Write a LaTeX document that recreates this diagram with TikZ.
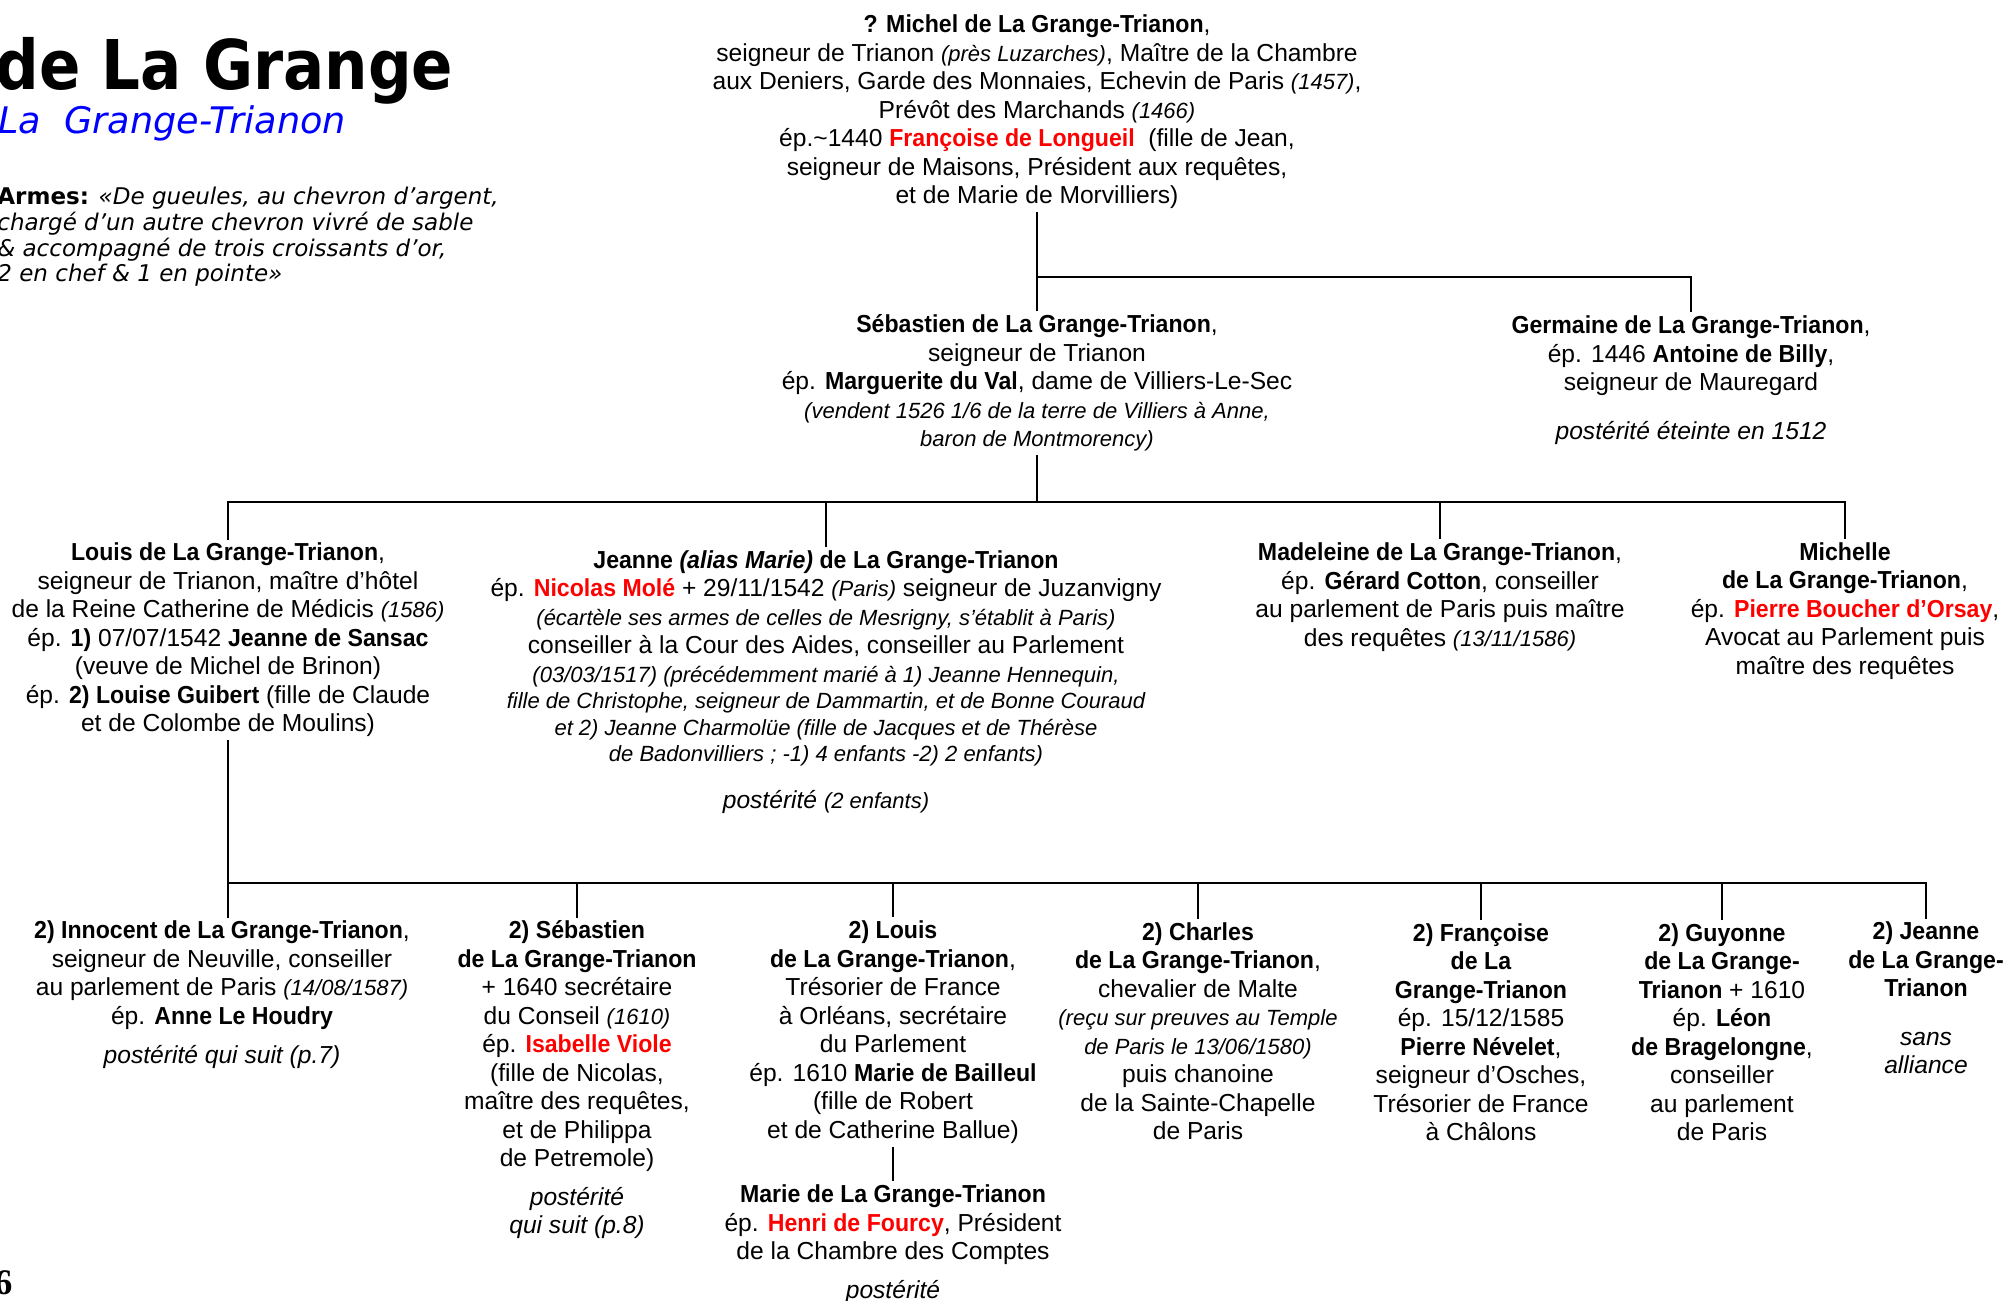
\documentclass[tikz,border=0pt]{standalone}
\usepackage{fontspec}
\usepackage{graphicx}
\setmainfont{Liberation Sans}[BoldFeatures={FakeStretch=0.94}, BoldItalicFeatures={FakeStretch=0.94}]
\newfontfamily\verdana{DejaVu Sans}
\newfontfamily\seriffont{Liberation Serif}
\usetikzlibrary{calc}

\definecolor{nomrouge}{RGB}{255,0,0}
\definecolor{titrebleu}{RGB}{0,0,255}
\newcommand{\pti}[1]{{\fontsize{11}{12}\selectfont\itshape #1}}
\newcommand{\rouge}[1]{\textcolor{nomrouge}{\textbf{#1}}}

\tikzset{
  personne/.style={align=center, inner sep=1.5pt, font=\fontsize{12.3}{14.25}\selectfont},
  lien/.style={line width=1.3pt},
}

\begin{document}
\begin{tikzpicture}[x=0.5pt, y=-0.5pt]

\useasboundingbox (0,0) rectangle (2009,1301);
\clip (0,0) rectangle (2009,1301);

% en-tete
\node[anchor=base west, inner sep=0] (titre) at (-5,90)
  {\scalebox{0.89}[1]{\fontsize{34.3}{40}\verdana\bfseries de La Grange}};
\node[anchor=base west, inner sep=0, text=titrebleu] (soustitre) at (-2,133)
  {\fontsize{18.3}{20}\verdana\itshape La\ \ Grange-Trianon};
\node[anchor=north west, inner sep=0, align=left, font=\fontsize{11.5}{12.8}\verdana\itshape] (armes) at (-3,187)
  {\textbf{\upshape Armes:} «De gueules, au chevron d’argent,\\
   chargé d’un autre chevron vivré de sable\\
   \& accompagné de trois croissants d’or,\\
   2 en chef \& 1 en pointe»};
\node[anchor=base west, inner sep=0] (page) at (-6,1294) {\fontsize{18}{20}\seriffont\bfseries 6};

% generation 1
\node[personne] (michel) at (1037,112) {\textbf{? Michel de La Grange-Trianon},\\
  seigneur de Trianon \pti{(près Luzarches)}, Maître de la Chambre\\
  aux Deniers, Garde des Monnaies, Echevin de Paris \pti{(1457)},\\
  Prévôt des Marchands \pti{(1466)}\\
  ép.\textasciitilde1440 \rouge{Françoise de Longueil}\ \ (fille de Jean,\\
  seigneur de Maisons, Président aux requêtes,\\
  et de Marie de Morvilliers)};

% generation 2
\node[personne] (sebastien) at (1037,383) {\textbf{Sébastien de La Grange-Trianon},\\
  seigneur de Trianon\\
  ép. \textbf{Marguerite du Val}, dame de Villiers-Le-Sec\\
  \pti{(vendent 1526 1/6 de la terre de Villiers à Anne,}\\
  \pti{baron de Montmorency)}};
\node[personne] (germaine) at (1691,380) {\textbf{Germaine de La Grange-Trianon},\\
  ép. 1446 \textbf{Antoine de Billy},\\
  seigneur de Mauregard\\[10pt]
  \textit{postérité éteinte en 1512}};

% generation 3
\node[personne] (louis) at (228,640) {\textbf{Louis de La Grange-Trianon},\\
  seigneur de Trianon, maître d’hôtel\\
  de la Reine Catherine de Médicis \pti{(1586)}\\
  ép. \textbf{1)} 07/07/1542 \textbf{Jeanne de Sansac}\\
  (veuve de Michel de Brinon)\\
  ép. \textbf{2) Louise Guibert} (fille de Claude\\
  et de Colombe de Moulins)};
\node[personne] (jeanne) at (826,682) {\textbf{Jeanne \textit{(alias Marie)} de La Grange-Trianon}\\
  ép. \rouge{Nicolas Molé} + 29/11/1542 \pti{(Paris)} seigneur de Juzanvigny\\
  \pti{(écartèle ses armes de celles de Mesrigny, s’établit à Paris)}\\
  conseiller à la Cour des Aides, conseiller au Parlement\\
  \pti{(03/03/1517) (précédemment marié à 1) Jeanne Hennequin,}\\[-1pt]
  \pti{fille de Christophe, seigneur de Dammartin, et de Bonne Couraud}\\[-1pt]
  \pti{et 2) Jeanne Charmolüe (fille de Jacques et de Thérèse}\\[-1pt]
  \pti{de Badonvilliers ; -1) 4 enfants -2) 2 enfants)}\\[9pt]
  \textit{postérité} \pti{(2 enfants)}};
\node[personne] (madeleine) at (1440,597) {\textbf{Madeleine de La Grange-Trianon},\\
  ép. \textbf{Gérard Cotton}, conseiller\\
  au parlement de Paris puis maître\\
  des requêtes \pti{(13/11/1586)}};
\node[personne] (michelle) at (1845,611) {\textbf{Michelle}\\
  \textbf{de La Grange-Trianon},\\
  ép. \rouge{Pierre Boucher d’Orsay},\\
  Avocat au Parlement puis\\
  maître des requêtes};

% generation 4
\node[personne] (innocent) at (222,995) {\textbf{2) Innocent de La Grange-Trianon},\\
  seigneur de Neuville, conseiller\\
  au parlement de Paris \pti{(14/08/1587)}\\
  ép. \textbf{Anne Le Houdry}\\[5.5pt]
  \textit{postérité qui suit (p.7)}};
\node[personne] (sebdeux) at (577,1080) {\textbf{2) Sébastien}\\
  \textbf{de La Grange-Trianon}\\
  + 1640 secrétaire\\
  du Conseil \pti{(1610)}\\
  ép. \rouge{Isabelle Viole}\\
  (fille de Nicolas,\\
  maître des requêtes,\\
  et de Philippa\\
  de Petremole)\\[5pt]
  \textit{postérité}\\
  \textit{qui suit (p.8)}};
\node[personne] (louisdeux) at (893,1032) {\textbf{2) Louis}\\
  \textbf{de La Grange-Trianon},\\
  Trésorier de France\\
  à Orléans, secrétaire\\
  du Parlement\\
  ép. 1610 \textbf{Marie de Bailleul}\\
  (fille de Robert\\
  et de Catherine Ballue)};
\node[personne] (marie) at (893,1244) {\textbf{Marie de La Grange-Trianon}\\
  ép. \rouge{Henri de Fourcy}, Président\\
  de la Chambre des Comptes\\[5pt]
  \textit{postérité}};
\node[personne] (charles) at (1198,1031) {\textbf{2) Charles}\\
  \textbf{de La Grange-Trianon},\\
  chevalier de Malte\\
  \pti{(reçu sur preuves au Temple}\\
  \pti{de Paris le 13/06/1580)}\\
  puis chanoine\\
  de la Sainte-Chapelle\\
  de Paris};
\node[personne] (francoise) at (1481,1032) {\textbf{2) Françoise}\\
  \textbf{de La}\\
  \textbf{Grange-Trianon}\\
  ép. 15/12/1585\\
  \textbf{Pierre Névelet},\\
  seigneur d’Osches,\\
  Trésorier de France\\
  à Châlons};
\node[personne] (guyonne) at (1722,1032) {\textbf{2) Guyonne}\\
  \textbf{de La Grange-}\\
  \textbf{Trianon} + 1610\\
  ép. \textbf{Léon}\\
  \textbf{de Bragelongne},\\
  conseiller\\
  au parlement\\
  de Paris};
\node[personne] (jeannedeux) at (1926,998) {\textbf{2) Jeanne}\\
  \textbf{de La Grange-}\\
  \textbf{Trianon}\\[10pt]
  \textit{sans}\\
  \textit{alliance}};

% liens
\coordinate (b1) at (1037,277);
\draw[lien] (michel.south) -- (michel.south |- sebastien.north);
\draw[lien] (b1) -| (germaine.north);

\coordinate (b2) at (228,502);
\draw[lien] (sebastien.south) -- (sebastien.south |- b2);
\draw[lien] (louis.north) |- (b2 -| michelle.north) -- (michelle.north);
\draw[lien] (b2 -| jeanne.north) -- (jeanne.north);
\draw[lien] (b2 -| madeleine.north) -- (madeleine.north);

\coordinate (b3) at (228,883);
\draw[lien] (louis.south) -- (louis.south |- innocent.north);
\draw[lien] (b3) -| (jeannedeux.north);
\foreach \enfant in {sebdeux, louisdeux, charles, francoise, guyonne}
  \draw[lien] (b3 -| \enfant.north) -- (\enfant.north);
\draw[lien] (louisdeux.south) -- (marie.north);

\end{tikzpicture}
\end{document}
